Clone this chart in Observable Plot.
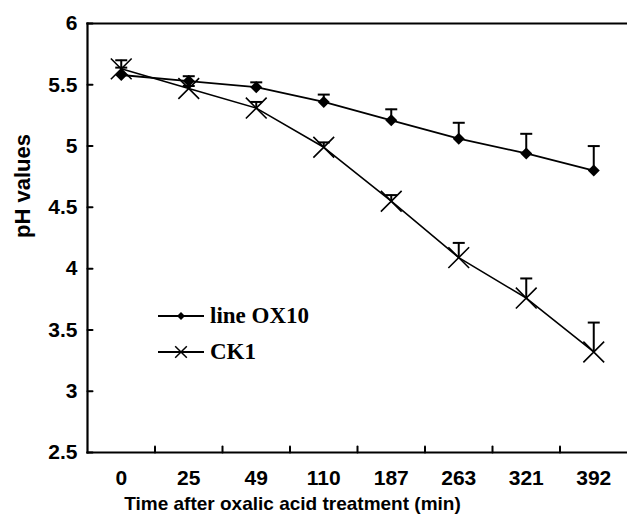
<!DOCTYPE html>
<html>
<head>
<meta charset="utf-8">
<script src="https://cdn.jsdelivr.net/npm/d3@7"></script>
<script src="https://cdn.jsdelivr.net/npm/@observablehq/plot@0.6"></script>
<style>
  html, body { margin: 0; padding: 0; background: #fff; }
  #chart { position: relative; width: 627px; height: 520px; overflow: hidden; }
  #legend { position: absolute; left: 158px; top: 298px; font-family: "Liberation Serif", "Times New Roman", serif; font-weight: bold; font-size: 23px; color: #000; }
  .item { display: flex; align-items: center; height: 36px; }
  .item svg { margin-right: 6px; }
</style>
</head>
<body>
<div id="chart"><div id="legend"></div></div>
<script>
const xLabels = ["0", "25", "49", "110", "187", "263", "321", "392"];
const ox10 = [5.58, 5.53, 5.48, 5.36, 5.21, 5.06, 4.94, 4.80];
const ox10Upper = [5.64, 5.57, 5.52, 5.42, 5.30, 5.19, 5.10, 5.00];
const ck1 = [5.63, 5.47, 5.31, 4.99, 4.55, 4.09, 3.76, 3.32];
const ck1Upper = [5.70, 5.49, 5.36, 5.03, 4.60, 4.21, 3.92, 3.56];
const yTicks = [2.5, 3, 3.5, 4, 4.5, 5, 5.5, 6];
const seriesNames = ["line OX10", "CK1"];

const rows = xLabels.map((t, i) => ({i, t, ox: ox10[i], oxU: ox10Upper[i], ck: ck1[i], ckU: ck1Upper[i]}));
const boundaries = d3.range(xLabels.length - 1).map(i => i + 0.5);

const tickShape = {draw(ctx, l) { ctx.moveTo(0, 0); ctx.lineTo(0, -l); }};
const capSymbol = {draw(ctx, size) { const w = Math.sqrt(size / Math.PI); ctx.moveTo(-w, 0); ctx.lineTo(w, 0); }};

const sans = '"Liberation Sans", Arial, sans-serif';

const plot = Plot.plot({
  width: 627,
  height: 520,
  marginTop: 23,
  marginBottom: 68,
  marginLeft: 87,
  marginRight: 0,
  x: {type: "linear", domain: [-0.5, xLabels.length - 0.5]},
  y: {domain: [2.5, 6]},
  style: {fontFamily: sans, color: "#000", background: "#fff"},
  marks: [
    Plot.axisY({ticks: yTicks, tickSize: 0, tickPadding: 10, tickFormat: d => String(d), fontSize: 21, fontWeight: "bold", fontFamily: sans, label: null}),
    Plot.axisX({ticks: d3.range(xLabels.length), tickSize: 0, tickPadding: 18, tickFormat: i => xLabels[i], fontSize: 21, fontWeight: "bold", fontFamily: sans, label: null}),
    Plot.vector(boundaries, {x: d => d, y: () => 2.5, length: 6, rotate: 0, anchor: "start", shape: tickShape, stroke: "#000", strokeWidth: 2}),
    Plot.vector(yTicks, {x: () => -0.5, y: d => d, length: 5, rotate: 90, anchor: "start", shape: tickShape, stroke: "#000", strokeWidth: 2}),
    Plot.frame({anchor: "top", stroke: "#000", strokeWidth: 2.2}),
    Plot.frame({anchor: "bottom", stroke: "#000", strokeWidth: 2.2}),
    Plot.frame({anchor: "left", stroke: "#000", strokeWidth: 2.2}),
    Plot.text(["pH values"], {frameAnchor: "left", rotate: -90, dx: -65, fontSize: 22, fontWeight: "bold", fontFamily: sans}),
    Plot.text(["Time after oxalic acid treatment (min)"], {frameAnchor: "bottom", dx: -65, dy: 57, fontSize: 19, fontWeight: "bold", fontFamily: sans}),
    // error bars
    Plot.ruleX(rows, {x: "i", y1: "ox", y2: "oxU", stroke: "#000", strokeWidth: 2}),
    Plot.dot(rows, {x: "i", y: "oxU", symbol: capSymbol, r: 6, stroke: "#000", strokeWidth: 2}),
    Plot.ruleX(rows, {x: "i", y1: "ck", y2: "ckU", stroke: "#000", strokeWidth: 2}),
    Plot.dot(rows, {x: "i", y: "ckU", symbol: capSymbol, r: 6, stroke: "#000", strokeWidth: 2}),
    // lines
    Plot.line(rows, {x: "i", y: "ox", stroke: "#000", strokeWidth: 1.8}),
    Plot.line(rows, {x: "i", y: "ck", stroke: "#000", strokeWidth: 1.6}),
    // markers
    Plot.dot(rows, {x: "i", y: "ox", symbol: "diamond2", r: 5.4, fill: "#000", stroke: "none"}),
    Plot.dot(rows, {x: "i", y: "ck", symbol: "times", r: 9.5, stroke: "#000", strokeWidth: 1.6, fill: "none"})
  ]
});
document.getElementById("chart").prepend(plot);

// legend
const legend = d3.select("#legend");
const symbols = [d3.symbolDiamond2, d3.symbolTimes];
const symSizes = [40, 90];
seriesNames.forEach((name, k) => {
  const item = legend.append("div").attr("class", "item");
  const svg = item.append("svg").attr("width", 46).attr("height", 20);
  svg.append("line").attr("x1", 0).attr("x2", 46).attr("y1", 10).attr("y2", 10).attr("stroke", "#000").attr("stroke-width", 1.8);
  const p = svg.append("path").attr("transform", "translate(23,10)").attr("d", d3.symbol(symbols[k], symSizes[k])());
  if (k === 0) p.attr("fill", "#000");
  else p.attr("fill", "none").attr("stroke", "#000").attr("stroke-width", 1.5);
  item.append("span").text(name);
});
</script>
</body>
</html>
